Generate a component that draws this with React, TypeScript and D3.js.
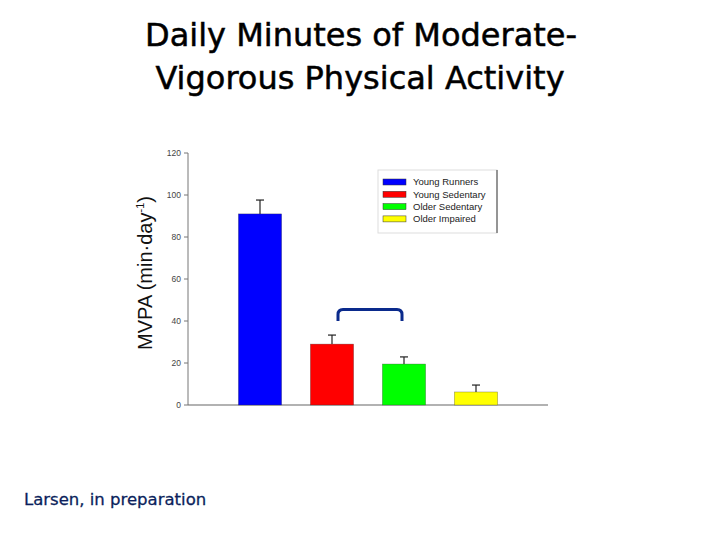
import React, { useEffect, useRef } from "react";
import * as d3 from "d3";

const groups = ["Young Runners", "Young Sedentary", "Older Sedentary", "Older Impaired"];
const means = [91, 29, 19.5, 6.2];
const errors = [6.6, 4.3, 3.4, 3.3];
const colors = ["#0000ff", "#ff0000", "#00ff00", "#ffff00"];
const yTicks = [0, 20, 40, 60, 80, 100, 120];
const bracketPair = ["Young Sedentary", "Older Sedentary"];

const App = () => {
  const ref = useRef<SVGSVGElement>(null);

  useEffect(() => {
    const svg = d3.select(ref.current);
    svg.selectAll("*").remove();

    // title
    const title = svg
      .append("text")
      .attr("text-anchor", "middle")
      .style("font-family", "'DejaVu Sans', Verdana, sans-serif")
      .style("font-size", "32px")
      .attr("fill", "#000")
      .attr("stroke", "#000")
      .attr("stroke-width", 0.5);
    title.append("tspan").attr("x", 361).attr("y", 46).text("Daily Minutes of Moderate-");
    title.append("tspan").attr("x", 360).attr("y", 89).text("Vigorous Physical Activity");

    const y = d3.scaleLinear().domain([0, 120]).range([405, 153]);
    const x = d3
      .scaleBand()
      .domain(groups)
      .range([224, 512])
      .paddingInner(0.4)
      .paddingOuter(0.2);

    const g = svg.append("g").style("font-family", "Arial, 'Liberation Sans', sans-serif");

    // axes
    g.append("line")
      .attr("x1", 188).attr("x2", 188)
      .attr("y1", y(120)).attr("y2", y(0))
      .attr("stroke", "#777").attr("stroke-width", 1);
    g.append("line")
      .attr("x1", 188).attr("x2", 548)
      .attr("y1", y(0)).attr("y2", y(0))
      .attr("stroke", "#666").attr("stroke-width", 1.2);
    yTicks.forEach((t) => {
      g.append("line")
        .attr("x1", 184).attr("x2", 188)
        .attr("y1", y(t)).attr("y2", y(t))
        .attr("stroke", "#777");
      g.append("text")
        .attr("x", 181).attr("y", y(t))
        .attr("dy", "0.35em")
        .attr("text-anchor", "end")
        .style("font-size", "8.5px")
        .attr("fill", "#444")
        .text(t);
    });

    // y label
    const yl = g
      .append("text")
      .attr("transform", "translate(152,273) rotate(-90)")
      .attr("text-anchor", "middle")
      .style("font-size", "20px")
      .attr("fill", "#111");
    yl.append("tspan").text("MVPA (min·day");
    yl.append("tspan").attr("dy", -8).style("font-size", "11px").text("-1");
    yl.append("tspan").attr("dy", 8).text(")");

    // error bars
    groups.forEach((d, i) => {
      const cx = (x(d) as number) + x.bandwidth() / 2;
      g.append("line")
        .attr("x1", cx).attr("x2", cx)
        .attr("y1", y(means[i])).attr("y2", y(means[i] + errors[i]))
        .attr("stroke", "#222").attr("stroke-width", 1.2);
      g.append("line")
        .attr("x1", cx - 4).attr("x2", cx + 4)
        .attr("y1", y(means[i] + errors[i])).attr("y2", y(means[i] + errors[i]))
        .attr("stroke", "#222").attr("stroke-width", 1.2);
    });

    // bars
    g.selectAll(".bar")
      .data(groups)
      .enter()
      .append("rect")
      .attr("x", (d) => x(d) as number)
      .attr("width", x.bandwidth())
      .attr("y", (d, i) => y(means[i]))
      .attr("height", (d, i) => y(0) - y(means[i]))
      .attr("fill", (d, i) => colors[i])
      .attr("stroke", "#333")
      .attr("stroke-opacity", 0.5)
      .attr("stroke-width", 0.6);

    // significance bracket
    const bx1 = (x(bracketPair[0]) as number) + x.bandwidth() / 2 + 6;
    const bx2 = (x(bracketPair[1]) as number) + x.bandwidth() / 2 - 2;
    const by = y(45.5);
    const bEnd = y(40);
    g.append("path")
      .attr("d", `M${bx1},${bEnd} L${bx1},${by + 5} Q${bx1},${by} ${bx1 + 5},${by} L${bx2 - 5},${by} Q${bx2},${by} ${bx2},${by + 5} L${bx2},${bEnd}`)
      .attr("fill", "none")
      .attr("stroke", "#0a2a8c")
      .attr("stroke-width", 3);

    // legend
    const lg = g.append("g").attr("transform", "translate(378,170)");
    lg.append("rect")
      .attr("width", 119).attr("height", 63)
      .attr("fill", "#fff")
      .attr("stroke", "#ddd");
    lg.append("line")
      .attr("x1", 119).attr("x2", 119).attr("y1", 0).attr("y2", 63)
      .attr("stroke", "#777").attr("stroke-width", 1.5);
    groups.forEach((d, i) => {
      const ry = 9 + i * 12.3;
      lg.append("rect")
        .attr("x", 5).attr("y", ry)
        .attr("width", 23).attr("height", 6)
        .attr("fill", colors[i])
        .attr("stroke", "#333").attr("stroke-width", 0.5);
      lg.append("text")
        .attr("x", 35).attr("y", ry + 3)
        .attr("dy", "0.35em")
        .style("font-size", "9.5px")
        .attr("fill", "#222")
        .text(d);
    });

    // footnote
    svg.append("text")
      .attr("x", 24).attr("y", 505)
      .style("font-family", "'DejaVu Sans', Verdana, sans-serif")
      .style("font-size", "16.5px")
      .attr("fill", "#0b1f5c")
      .attr("stroke", "#0b1f5c")
      .attr("stroke-width", 0.3)
      .text("Larsen, in preparation");
  }, []);

  return (
    <svg
      ref={ref}
      width={720}
      height={540}
      style={{ position: "absolute", left: 0, top: 0, background: "#fff" }}
    />
  );
};

export default App;
